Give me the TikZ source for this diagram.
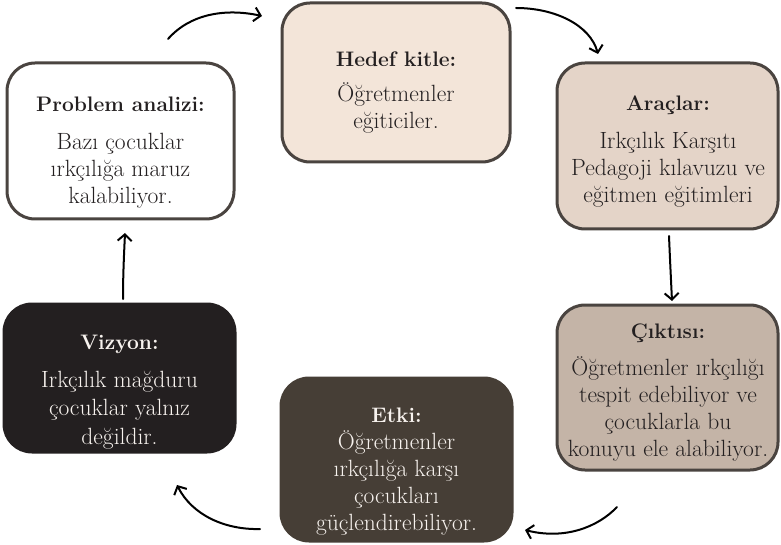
\documentclass[tikz,border=0pt]{standalone}
\usepackage{fontspec}
\usetikzlibrary{arrows.meta}
\definecolor{edge}{HTML}{4A4440}
\definecolor{ink}{HTML}{231F20}
\definecolor{paper}{HTML}{F7F2EE}
\definecolor{hedfill}{HTML}{F3E5D9}
\definecolor{arafill}{HTML}{E4D4C8}
\definecolor{cikfill}{HTML}{C4B4A7}
\definecolor{etkfill}{HTML}{463E36}
\definecolor{vizfill}{HTML}{231F20}
\newcommand\boxtitle[1]{\rule{0pt}{16pt}{\bfseries\fontsize{21}{27}\selectfont #1}}
\begin{document}
\begin{tikzpicture}[x=1pt,y=-1pt,
  box/.style={draw=edge, line width=3pt, rounded corners=28pt, inner sep=0pt},
  txt/.style={align=center, anchor=north, inner sep=0pt, font=\fontsize{23.5}{27}\selectfont, text=ink},
  flow/.style={line width=2pt, line cap=round, -{Straight Barb[length=6.5pt,width=14pt,line width=2pt]}, black}]
\useasboundingbox[fill=white] (0,0) rectangle (781,545);

% boxes
\node[box, fill=white, minimum width=227pt, minimum height=156pt] (prob) at (120.5,141) {};
\node[box, fill=hedfill, minimum width=228pt, minimum height=159pt] (hed) at (396,82.5) {};
\node[box, fill=arafill, minimum width=221pt, minimum height=166pt] (ara) at (667.5,146) {};
\node[box, fill=cikfill, minimum width=221pt, minimum height=165pt] (cik) at (667.5,387.5) {};
\node[box, fill=etkfill, draw=etkfill, minimum width=231pt, minimum height=163pt] (etk) at (396.5,459.5) {};
\node[box, fill=vizfill, draw=vizfill, minimum width=231pt, minimum height=148pt] (viz) at (119.5,378) {};

% texts
\node[txt] (probt) at (120.5,95) {\boxtitle{Problem analizi:}\\[11pt] Bazı çocuklar\\ ırkçılığa maruz\\ kalabiliyor.};
\node[txt] (hedt) at (396,50) {\boxtitle{Hedef kitle:}\\[8pt] Öğretmenler\\ eğiticiler.};
\node[txt] (arat) at (668,94) {\boxtitle{Araçlar:}\\[11pt] Irkçılık Karşıtı\\ Pedagoji kılavuzu ve\\ eğitmen eğitimleri};
\node[txt] (cikt) at (668,322) {\boxtitle{Çıktısı:}\\[10pt] Öğretmenler ırkçılığı\\ tespit edebiliyor ve\\ çocuklarla bu\\ konuyu ele alabiliyor.};
\node[txt, text=paper] (etkt) at (396.5,406) {\boxtitle{Etki:}\\ Öğretmenler\\ ırkçılığa karşı\\ çocukları\\ güçlendirebiliyor.};
\node[txt, text=paper] (vizt) at (119.5,333) {\boxtitle{Vizyon:}\\[11pt] Irkçılık mağduru\\[1.5pt] çocuklar yalnız\\[1.5pt] değildir.};

% arrow end points
\coordinate (a1s) at (168,39);  \coordinate (a1e) at (262,16);
\coordinate (a2s) at (516,8);   \coordinate (a2e) at (598,54);
\coordinate (a3s) at (669,236); \coordinate (a3e) at (672,301);
\coordinate (a4s) at (617,507); \coordinate (a4e) at (525,530);
\coordinate (a5s) at (260,529); \coordinate (a5e) at (177,485);
\coordinate (a6s) at (123,299); \coordinate (a6e) at (125,233);

% arrows
\draw[flow] (a1s) .. controls (190,14) and (225,8) .. (a1e);
\draw[flow] (a2s) .. controls (555,8) and (590,25) .. (a2e);
\draw[flow] (a3s) .. controls (670,260) and (671,280) .. (a3e);
\draw[flow] (a4s) .. controls (598,527) and (565,540) .. (a4e);
\draw[flow] (a5s) .. controls (225,530) and (192,515) .. (a5e);
\draw[flow] (a6s) .. controls (123,275) and (124,255) .. (a6e);
\end{tikzpicture}
\end{document}
